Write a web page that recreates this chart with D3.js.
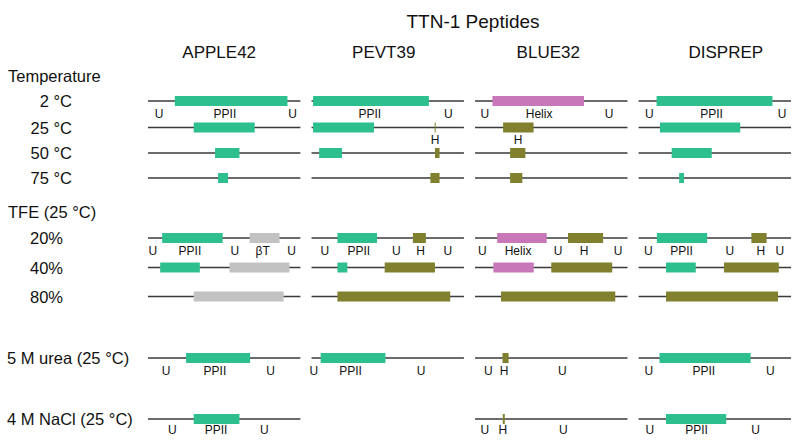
<!DOCTYPE html>
<html><head><meta charset="utf-8">
<script src="https://cdn.jsdelivr.net/npm/d3@7"></script>
<style>body{margin:0;background:#fff}text{font-family:"Liberation Sans",Arial,sans-serif;fill:#111}</style>
</head><body><svg id="c" width="800" height="448"></svg>
<script>
const title = "TTN-1 Peptides";
const peptides = ["APPLE42", "PEVT39", "BLUE32", "DISPREP"];
const sections = [["Temperature", "T"], ["TFE (25 °C)", "F"]];
const rowKeys = ["t2", "t25", "t50", "t75", "f20", "f40", "f80", "urea", "nacl"];
const rowLabels = ["2 °C", "25 °C", "50 °C", "75 °C", "20%", "40%", "80%", "5 M urea (25 °C)", "4 M NaCl (25 °C)"];
const structTypes = ["PPII", "Helix", "H", "βT"];
const structColors = ["#2ebf8e", "#c878b8", "#80802f", "#c2c2c2"];
// rows without a peptide line
const missing = [["nacl", "PEVT39"]];
// segments: [row, peptide, start fraction, end fraction, structure]
const segments = [
  ["t2","APPLE42",0.176,0.915,"PPII"],["t2","PEVT39",0.01,0.77,"PPII"],["t2","BLUE32",0.114,0.715,"Helix"],["t2","DISPREP",0.118,0.878,"PPII"],
  ["t25","APPLE42",0.30,0.70,"PPII"],["t25","PEVT39",0.01,0.41,"PPII"],["t25","PEVT39",0.808,0.812,"H"],["t25","BLUE32",0.184,0.384,"H"],["t25","DISPREP",0.14,0.667,"PPII"],
  ["t50","APPLE42",0.44,0.60,"PPII"],["t50","PEVT39",0.05,0.20,"PPII"],["t50","PEVT39",0.81,0.84,"H"],["t50","BLUE32",0.23,0.33,"H"],["t50","DISPREP",0.217,0.48,"PPII"],
  ["t75","APPLE42",0.46,0.525,"PPII"],["t75","PEVT39",0.78,0.84,"H"],["t75","BLUE32",0.23,0.31,"H"],["t75","DISPREP",0.266,0.298,"PPII"],
  ["f20","APPLE42",0.093,0.49,"PPII"],["f20","APPLE42",0.667,0.863,"βT"],["f20","PEVT39",0.17,0.43,"PPII"],["f20","PEVT39",0.665,0.75,"H"],
  ["f20","BLUE32",0.145,0.47,"Helix"],["f20","BLUE32",0.61,0.84,"H"],["f20","DISPREP",0.12,0.45,"PPII"],["f20","DISPREP",0.74,0.84,"H"],
  ["f40","APPLE42",0.08,0.34,"PPII"],["f40","APPLE42",0.535,0.928,"βT"],["f40","PEVT39",0.17,0.235,"PPII"],["f40","PEVT39",0.48,0.81,"H"],
  ["f40","BLUE32",0.12,0.385,"Helix"],["f40","BLUE32",0.50,0.90,"H"],["f40","DISPREP",0.18,0.375,"PPII"],["f40","DISPREP",0.56,0.92,"H"],
  ["f80","APPLE42",0.30,0.89,"βT"],["f80","PEVT39",0.17,0.91,"H"],["f80","BLUE32",0.17,0.92,"H"],["f80","DISPREP",0.18,0.915,"H"],
  ["urea","APPLE42",0.25,0.67,"PPII"],["urea","PEVT39",0.06,0.485,"PPII"],["urea","BLUE32",0.18,0.22,"H"],["urea","DISPREP",0.137,0.735,"PPII"],
  ["nacl","APPLE42",0.30,0.60,"PPII"],["nacl","BLUE32",0.182,0.195,"H"],["nacl","DISPREP",0.18,0.575,"PPII"]
];
// labels: [row, peptide, position fraction, text]
const labels = [
  ["t2","APPLE42",0.072,"U"],["t2","APPLE42",0.505,"PPII"],["t2","APPLE42",0.949,"U"],
  ["t2","PEVT39",0.382,"PPII"],["t2","PEVT39",0.898,"U"],
  ["t2","BLUE32",0.064,"U"],["t2","BLUE32",0.42,"Helix"],["t2","BLUE32",0.879,"U"],
  ["t2","DISPREP",0.07,"U"],["t2","DISPREP",0.479,"PPII"],["t2","DISPREP",0.942,"U"],
  ["t25","PEVT39",0.811,"H"],["t25","BLUE32",0.282,"H"],
  ["f20","APPLE42",0.031,"U"],["f20","APPLE42",0.275,"PPII"],["f20","APPLE42",0.57,"U"],["f20","APPLE42",0.752,"βT"],["f20","APPLE42",0.942,"U"],
  ["f20","PEVT39",0.087,"U"],["f20","PEVT39",0.31,"PPII"],["f20","PEVT39",0.557,"U"],["f20","PEVT39",0.715,"H"],["f20","PEVT39",0.894,"U"],
  ["f20","BLUE32",0.048,"U"],["f20","BLUE32",0.282,"Helix"],["f20","BLUE32",0.544,"U"],["f20","BLUE32",0.715,"H"],["f20","BLUE32",0.938,"U"],
  ["f20","DISPREP",0.064,"U"],["f20","DISPREP",0.282,"PPII"],["f20","DISPREP",0.599,"U"],["f20","DISPREP",0.802,"H"],["f20","DISPREP",0.927,"U"],
  ["urea","APPLE42",0.118,"U"],["urea","APPLE42",0.439,"PPII"],["urea","APPLE42",0.804,"U"],
  ["urea","PEVT39",0.015,"U"],["urea","PEVT39",0.256,"PPII"],["urea","PEVT39",0.719,"U"],
  ["urea","BLUE32",0.087,"U"],["urea","BLUE32",0.19,"H"],["urea","BLUE32",0.572,"U"],
  ["urea","DISPREP",0.068,"U"],["urea","DISPREP",0.428,"PPII"],["urea","DISPREP",0.865,"U"],
  ["nacl","APPLE42",0.159,"U"],["nacl","APPLE42",0.446,"PPII"],["nacl","APPLE42",0.763,"U"],
  ["nacl","BLUE32",0.064,"U"],["nacl","BLUE32",0.182,"H"],["nacl","BLUE32",0.579,"U"],
  ["nacl","DISPREP",0.074,"U"],["nacl","DISPREP",0.38,"PPII"],["nacl","DISPREP",0.767,"U"]
];

const svg = d3.select("#c");
const col = d3.scaleBand().domain(peptides).range([148, 791]).paddingInner(0.068);
const y = d3.scaleOrdinal().domain(rowKeys).range([101, 127.5, 153, 178, 238, 267.5, 296.5, 358, 419]);
const secY = d3.scaleOrdinal().domain(["T", "F"]).range([75.5, 212]);
const color = d3.scaleOrdinal().domain(structTypes).range(structColors);
const xIn = p => d3.scaleLinear().domain([0, 1]).range([col(p), col(p) + col.bandwidth()]);
const titleOffset = [-5, -4, -3, 11];
const labelDy = {nacl: 11};
const BAR_H = 10;

svg.append("text").attr("x", 473).attr("y", 21).attr("text-anchor", "middle")
  .attr("dominant-baseline", "central").style("font-size", "19px").text(title);
svg.selectAll("text.pep").data(peptides).join("text").attr("class", "pep")
  .attr("x", (d, i) => col(d) + col.bandwidth() / 2 + titleOffset[i]).attr("y", 52)
  .attr("text-anchor", "middle").attr("dominant-baseline", "central").style("font-size", "17px").text(d => d);
svg.selectAll("text.sec").data(sections).join("text").attr("class", "sec")
  .attr("x", 8).attr("y", d => secY(d[1])).attr("dominant-baseline", "central")
  .style("font-size", "16.5px").text(d => d[0]);
svg.selectAll("text.row").data(rowKeys).join("text").attr("class", "row")
  .attr("x", (d, i) => i < 4 ? 72 : i < 7 ? 63 : 7)
  .attr("text-anchor", (d, i) => i < 7 ? "end" : "start")
  .attr("y", d => y(d)).attr("dominant-baseline", "central")
  .style("font-size", "16.5px").text((d, i) => rowLabels[i]);

const lines = [];
rowKeys.forEach(r => peptides.forEach(p => {
  if (!missing.some(m => m[0] === r && m[1] === p)) lines.push([r, p]);
}));
svg.selectAll("line.base").data(lines).join("line").attr("class", "base")
  .attr("x1", d => xIn(d[1])(0)).attr("x2", d => xIn(d[1])(1))
  .attr("y1", d => y(d[0])).attr("y2", d => y(d[0]))
  .attr("stroke", "#3a3a3a").attr("stroke-width", 1.4);
svg.selectAll("rect.seg").data(segments).join("rect").attr("class", "seg")
  .attr("x", d => xIn(d[1])(d[2]))
  .attr("width", d => Math.max(1, xIn(d[1])(d[3]) - xIn(d[1])(d[2])))
  .attr("y", d => y(d[0]) - BAR_H / 2).attr("height", BAR_H)
  .attr("fill", d => color(d[4]));
svg.selectAll("text.lab").data(labels).join("text").attr("class", "lab")
  .attr("x", d => xIn(d[1])(d[2])).attr("y", d => y(d[0]) + (labelDy[d[0]] || 12.5))
  .attr("text-anchor", "middle").attr("dominant-baseline", "central")
  .style("font-size", "12px").text(d => d[3]);
</script></body></html>
